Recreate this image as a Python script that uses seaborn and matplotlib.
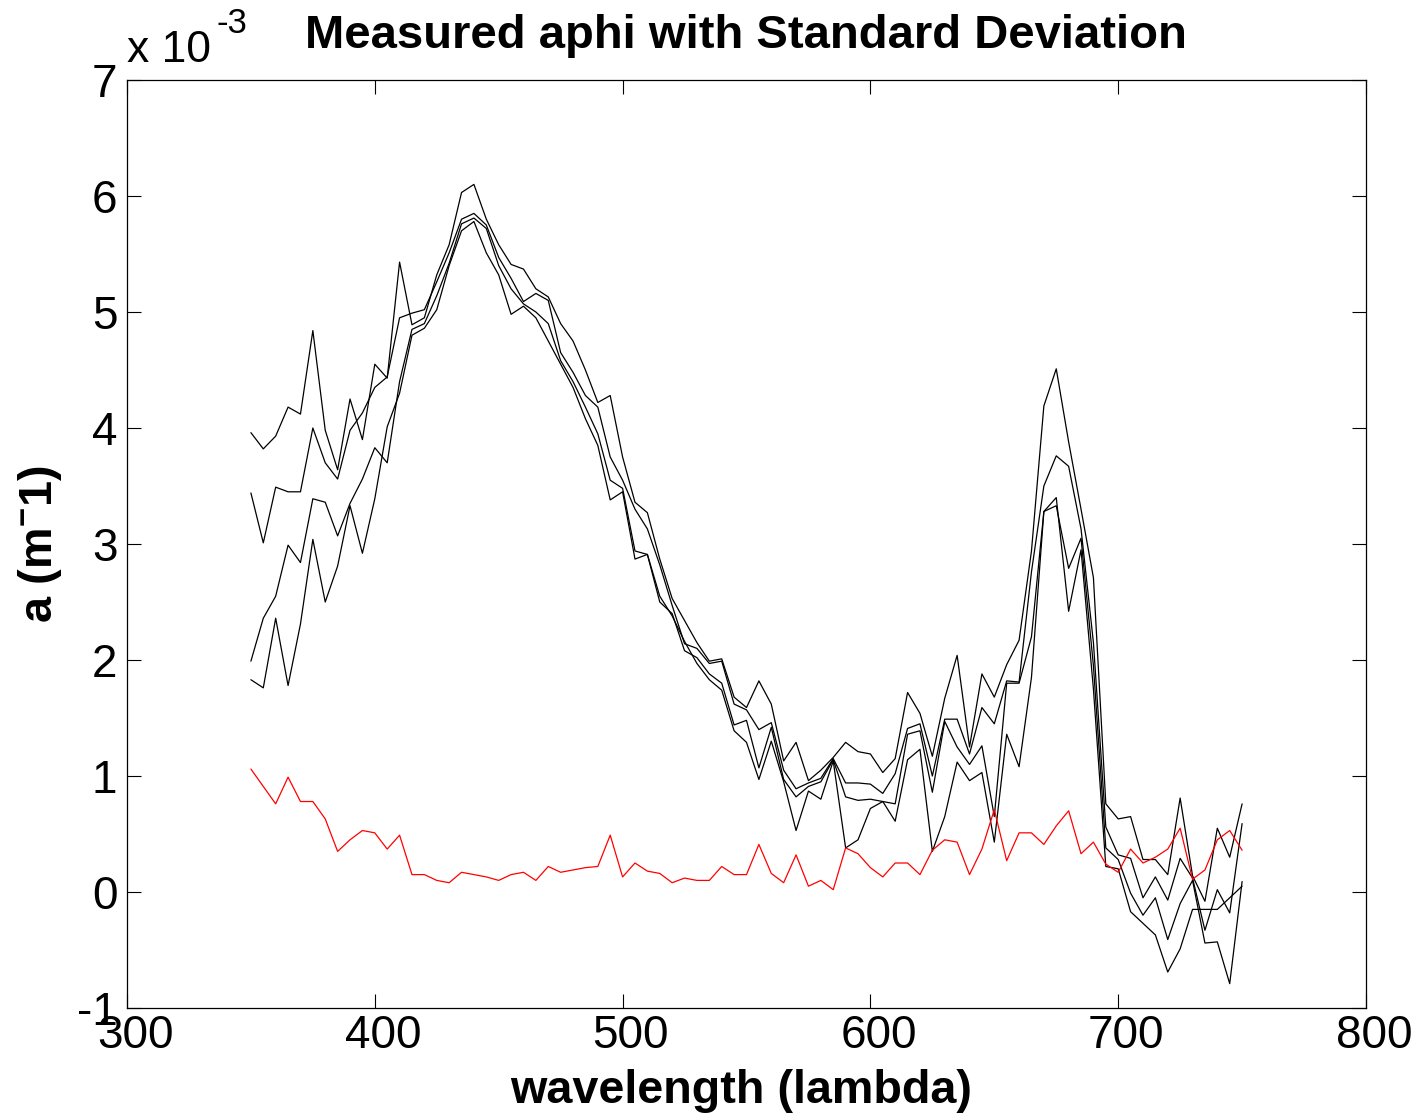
import numpy as np
import pandas as pd
import matplotlib
matplotlib.use("Agg")
import matplotlib.pyplot as plt
import matplotlib.transforms as mtransforms
import seaborn as sns

# wavelengths (nm)
wavelength = list(range(350, 755, 5))

# measured aphi replicates (units of 1e-3 m^-1)
aphi_1 = [3.96, 3.82, 3.93, 4.18, 4.12, 4.84, 3.98, 3.64, 4.25, 3.90,
          4.55, 4.43, 5.43, 4.89, 4.95, 5.32, 5.58, 6.03, 6.10, 5.80,
          5.58, 5.41, 5.37, 5.20, 5.13, 4.90, 4.75, 4.50, 4.22, 4.28,
          3.75, 3.36, 3.27, 2.87, 2.53, 2.34, 2.15, 1.99, 2.01, 1.68,
          1.59, 1.82, 1.62, 1.13, 1.29, 0.96, 1.05, 1.16, 1.29, 1.21,
          1.19, 1.03, 1.15, 1.72, 1.54, 1.17, 1.67, 2.04, 1.25, 1.88,
          1.68, 1.96, 2.17, 2.94, 4.19, 4.51, 3.88, 3.30, 2.71, 0.76,
          0.63, 0.65, 0.28, 0.28, 0.15, 0.81, 0.14, -0.08, 0.55, 0.30,
          0.76]
aphi_2 = [3.44, 3.01, 3.49, 3.45, 3.45, 4.00, 3.70, 3.56, 3.98, 4.13,
          4.35, 4.44, 4.95, 4.99, 5.02, 5.26, 5.51, 5.80, 5.85, 5.75,
          5.47, 5.29, 5.09, 5.16, 5.10, 4.65, 4.48, 4.28, 4.18, 3.75,
          3.55, 3.30, 3.13, 2.82, 2.47, 2.14, 2.10, 1.97, 1.99, 1.62,
          1.57, 1.40, 1.46, 1.05, 0.89, 0.94, 0.98, 1.15, 0.94, 0.94,
          0.93, 0.85, 1.02, 1.41, 1.45, 1.00, 1.49, 1.49, 1.19, 1.59,
          1.45, 1.82, 1.81, 2.76, 3.50, 3.76, 3.67, 3.13, 2.15, 0.56,
          0.32, 0.29, -0.05, 0.13, -0.07, 0.29, 0.12, -0.33, 0.02, -0.18,
          0.59]
aphi_3 = [1.99, 2.36, 2.55, 2.99, 2.84, 3.39, 3.36, 3.07, 3.35, 3.56,
          3.83, 3.70, 4.40, 4.85, 4.90, 5.14, 5.42, 5.76, 5.81, 5.72,
          5.40, 5.20, 5.07, 5.00, 4.90, 4.58, 4.40, 4.18, 3.95, 3.55,
          3.48, 2.94, 2.91, 2.50, 2.40, 2.08, 2.02, 1.88, 1.80, 1.44,
          1.48, 1.07, 1.42, 0.97, 0.82, 0.91, 0.95, 1.14, 0.82, 0.79,
          0.80, 0.78, 0.76, 1.36, 1.39, 0.86, 1.47, 1.25, 1.10, 1.26,
          0.65, 1.80, 1.80, 2.20, 3.28, 3.33, 2.79, 3.05, 1.95, 0.38,
          0.28, -0.01, -0.20, -0.05, -0.41, -0.10, 0.10, -0.44, -0.43, -0.79,
          0.09]
aphi_4 = [1.83, 1.76, 2.36, 1.78, 2.31, 3.04, 2.50, 2.81, 3.33, 2.92,
          3.39, 4.01, 4.30, 4.80, 4.86, 5.02, 5.40, 5.70, 5.78, 5.51,
          5.32, 4.98, 5.05, 4.95, 4.75, 4.55, 4.35, 4.08, 3.85, 3.38,
          3.45, 2.87, 2.91, 2.55, 2.38, 2.16, 1.97, 1.83, 1.74, 1.39,
          1.29, 0.97, 1.30, 0.95, 0.53, 0.87, 0.80, 1.13, 0.38, 0.45,
          0.72, 0.78, 0.61, 1.14, 1.23, 0.35, 0.65, 1.12, 0.96, 1.03,
          0.43, 1.36, 1.08, 1.85, 3.28, 3.40, 2.42, 2.95, 1.75, 0.22,
          0.20, -0.17, -0.27, -0.37, -0.69, -0.49, -0.15, -0.15, -0.15, -0.05,
          0.05]
# standard deviation (units of 1e-3 m^-1)
aphi_std = [1.06, 0.91, 0.76, 0.99, 0.78, 0.78, 0.63, 0.35, 0.45, 0.53,
            0.51, 0.37, 0.49, 0.15, 0.15, 0.10, 0.08, 0.17, 0.15, 0.13,
            0.10, 0.15, 0.17, 0.10, 0.22, 0.17, 0.19, 0.21, 0.22, 0.49,
            0.13, 0.25, 0.18, 0.16, 0.08, 0.12, 0.10, 0.10, 0.22, 0.15,
            0.15, 0.41, 0.16, 0.08, 0.32, 0.05, 0.10, 0.02, 0.38, 0.33,
            0.21, 0.13, 0.25, 0.25, 0.15, 0.36, 0.45, 0.43, 0.15, 0.37,
            0.71, 0.27, 0.51, 0.51, 0.41, 0.57, 0.70, 0.33, 0.43, 0.24,
            0.17, 0.37, 0.25, 0.30, 0.37, 0.55, 0.11, 0.19, 0.45, 0.53,
            0.36]

x_ticks = [300, 400, 500, 600, 700, 800]
y_ticks = [-1, 0, 1, 2, 3, 4, 5, 6, 7]

title_text = "Measured aphi with Standard Deviation"
xlabel_text = "wavelength (lambda)"
ylabel_text = r"a (m$^{-}$1)"
offset_base = "x 10"
offset_exp = "-3"

series = {"s1": aphi_1, "s2": aphi_2, "s3": aphi_3, "s4": aphi_4, "std": aphi_std}
frames = []
for name, vals in series.items():
    assert len(vals) == len(wavelength), (name, len(vals))
    frames.append(pd.DataFrame({"wavelength": wavelength, "a": vals, "series": name}))
df = pd.concat(frames, ignore_index=True)

sns.set_style("ticks")
plt.rcParams["font.family"] = ["Liberation Sans", "DejaVu Sans"]
plt.rcParams["mathtext.default"] = "regular"
plt.rcParams["text.color"] = "black"
plt.rcParams["axes.labelcolor"] = "black"
plt.rcParams["xtick.color"] = "black"
plt.rcParams["ytick.color"] = "black"

W, H = 1422, 1119
fig = plt.figure(figsize=(W / 100, H / 100), dpi=100)
ax_l, ax_r, ax_t, ax_b = 127, 1366, 80, 1008
ax = fig.add_axes([ax_l / W, 1 - ax_b / H, (ax_r - ax_l) / W, (ax_b - ax_t) / H])

palette = {"s1": "black", "s2": "black", "s3": "black", "s4": "black", "std": "#ff0000"}
sns.lineplot(data=df, x="wavelength", y="a", hue="series", palette=palette,
             linewidth=0.9, legend=False, ax=ax, estimator=None, sort=False)

ax.set_xlim(300, 800)
ax.set_ylim(-1, 7)
ax.set_xticks(x_ticks)
ax.set_yticks(y_ticks)
ax.set_xticklabels([str(v) for v in x_ticks])
ax.set_yticklabels([str(v) for v in y_ticks])
ax.tick_params(direction="in", length=10, width=0.8, top=True, right=True,
               labelsize=33, colors="black")
ax.tick_params(axis="x", pad=4)
ax.tick_params(axis="y", pad=7)
shift = mtransforms.ScaledTranslation(8 / 100, 0, fig.dpi_scale_trans)
for lab in ax.get_xticklabels():
    lab.set_transform(lab.get_transform() + shift)
for sp in ax.spines.values():
    sp.set_visible(True)
    sp.set_linewidth(0.9)
    sp.set_color("black")

ax.set_xlabel(xlabel_text, fontsize=33.7, fontweight="bold", color="black")
ax.xaxis.label.set_va("baseline")
ax.xaxis.set_label_coords((741 - ax_l) / (ax_r - ax_l), -(1103 - ax_b) / (ax_b - ax_t))
ax.set_ylabel(ylabel_text, fontsize=33.7, fontweight="bold", color="black")
ax.yaxis.label.set_va("baseline")
ax.yaxis.set_label_coords(-(ax_l - 52) / (ax_r - ax_l), 0.5)

fig.text(746 / W, 1 - 48 / H, title_text, ha="center", va="baseline",
         fontsize=34, fontweight="bold", color="black")
fig.text(127 / W, 1 - 62 / H, offset_base, ha="left", va="baseline", fontsize=32, color="black")
fig.text(216 / W, 1 - 33 / H, offset_exp, ha="left", va="baseline", fontsize=25, color="black")

fig.savefig("out.png", dpi=100, facecolor="white")
